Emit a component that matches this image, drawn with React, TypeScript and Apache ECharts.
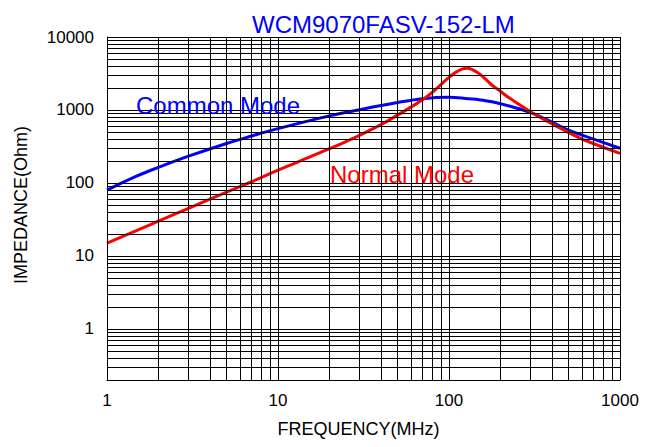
import React, { useEffect, useRef } from "react";
import * as echarts from "echarts";

const titleText = "WCM9070FASV-152-LM";
const xName = "FREQUENCY(MHz)";
const yName = "IMPEDANCE(Ohm)";

// Common Mode impedance (MHz, Ohm)
const commonFreq = [1, 1.5, 2, 3, 5, 7, 10, 20, 30, 50, 70, 100, 130, 150, 200, 300, 400, 500, 700, 1000];
const commonZ = [80, 125, 164, 233, 348, 440, 555, 830, 1010, 1265, 1430, 1494, 1425, 1385, 1220, 920, 680, 530, 400, 299];

// Normal Mode impedance (MHz, Ohm)
const normalFreq = [1, 2, 3, 5, 7, 10, 15, 20, 25, 30, 40, 50, 60, 70, 80, 90, 100, 110, 120, 127, 135, 150, 165, 180, 200, 220, 260, 310, 370, 490, 640, 1000];
const normalZ = [15, 30, 45, 75, 104, 150, 222, 295, 370, 450, 630, 850, 1100, 1380, 1750, 2250, 2800, 3300, 3650, 3720, 3620, 3150, 2600, 2150, 1800, 1520, 1170, 900, 713, 504, 376, 255];

// grid line positions
const xGrid = [
  1, 2, 3, 4, 5, 6, 7, 8, 9,
  10, 20, 30, 40, 50, 60, 70, 80, 90,
  100, 200, 300, 400, 500, 600, 700, 800, 900, 1000,
];
const yGrid = [
  0.2, 0.3, 0.4, 0.5, 0.6, 0.7, 0.8, 0.9,
  1, 2, 3, 4, 5, 6, 7, 8, 9,
  10, 20, 30, 40, 50, 60, 70, 80, 90,
  100, 200, 300, 400, 500, 600, 700, 800, 900,
  1000, 2000, 3000, 4000, 5000, 6000, 7000, 8000, 9000, 10000,
];

const FONT = "'Liberation Sans', Arial, Helvetica, sans-serif";

function decadeLabel(v: number): string {
  if (v < 0.999) return "";
  const l = Math.log10(v);
  if (Math.abs(l - Math.round(l)) < 1e-6) return String(Math.round(v));
  return "";
}

export default function App() {
  const ref = useRef<HTMLDivElement>(null);
  useEffect(() => {
    if (!ref.current) return;
    const chart = echarts.init(ref.current, undefined, { renderer: "svg" });
    const commonData = commonFreq.map((f, i) => [f, commonZ[i]]);
    const normalData = normalFreq.map((f, i) => [f, normalZ[i]]);
    const gridLines: any[] = [
      ...xGrid.map((v) => ({ xAxis: v })),
      ...yGrid.map((v) => ({ yAxis: v })),
    ];
    chart.setOption({
      animation: false,
      backgroundColor: "#fff",
      grid: { left: 107, right: 32, top: 37, bottom: 67, containLabel: false },
      xAxis: {
        type: "log",
        logBase: 10,
        min: 1,
        max: 1000,
        name: xName,
        nameLocation: "middle",
        nameGap: 40,
        nameTextStyle: { color: "#000", fontSize: 18, fontFamily: FONT, padding: [0, 10, 0, 0] },
        axisLine: { show: true, lineStyle: { color: "#000", width: 1 } },
        axisTick: { show: false },
        splitLine: { show: false },
        minorSplitLine: { show: false },
        axisLabel: {
          color: "#000",
          fontSize: 17,
          fontFamily: FONT,
          margin: 12,
          formatter: (v: number) => decadeLabel(v),
        },
      },
      yAxis: {
        type: "log",
        logBase: 10,
        min: 0.2,
        max: 10000,
        name: yName,
        nameLocation: "middle",
        nameGap: 77,
        nameRotate: 90,
        nameTextStyle: { color: "#000", fontSize: 18, fontFamily: FONT, padding: [0, 0, 0, 7] },
        axisLine: { show: true, lineStyle: { color: "#000", width: 1 } },
        axisTick: { show: false },
        splitLine: { show: false },
        axisLabel: {
          color: "#000",
          fontSize: 17,
          fontFamily: FONT,
          margin: 13,
          formatter: (v: number) => decadeLabel(v),
        },
      },
      graphic: [
        {
          type: "text",
          left: 252,
          top: 12,
          style: { text: titleText, fill: "#0000FF", fontSize: 24, fontFamily: FONT },
        },
        {
          type: "text",
          left: 136,
          top: 93,
          z: 10,
          style: { text: "Common Mode", fill: "#0000FF", fontSize: 24, fontFamily: FONT },
        },
        {
          type: "text",
          left: 330,
          top: 162,
          z: 10,
          style: { text: "Normal Mode", fill: "#FF0000", fontSize: 24, fontFamily: FONT },
        },
      ],
      series: [
        {
          name: "grid",
          type: "line",
          data: [[1, 1]],
          showSymbol: false,
          silent: true,
          z: 1,
          lineStyle: { opacity: 0 },
          markLine: {
            silent: true,
            symbol: ["none", "none"],
            label: { show: false },
            lineStyle: { color: "#000", width: 1, type: "solid", opacity: 1 },
            emphasis: { disabled: true },
            data: gridLines,
          },
        },
        {
          name: "Common Mode",
          type: "line",
          data: commonData,
          showSymbol: false,
          smooth: 0.4,
          z: 3,
          lineStyle: { color: "#0000FF", width: 3 },
          itemStyle: { color: "#0000FF" },
        },
        {
          name: "Normal Mode",
          type: "line",
          data: normalData,
          showSymbol: false,
          smooth: 0.4,
          z: 4,
          lineStyle: { color: "#FF0000", width: 3 },
          itemStyle: { color: "#FF0000" },
        },
      ],
    });
    return () => chart.dispose();
  }, []);
  return (
    <div
      ref={ref}
      style={{ position: "fixed", left: 0, top: 0, width: 652, height: 447, background: "#fff" }}
    />
  );
}
